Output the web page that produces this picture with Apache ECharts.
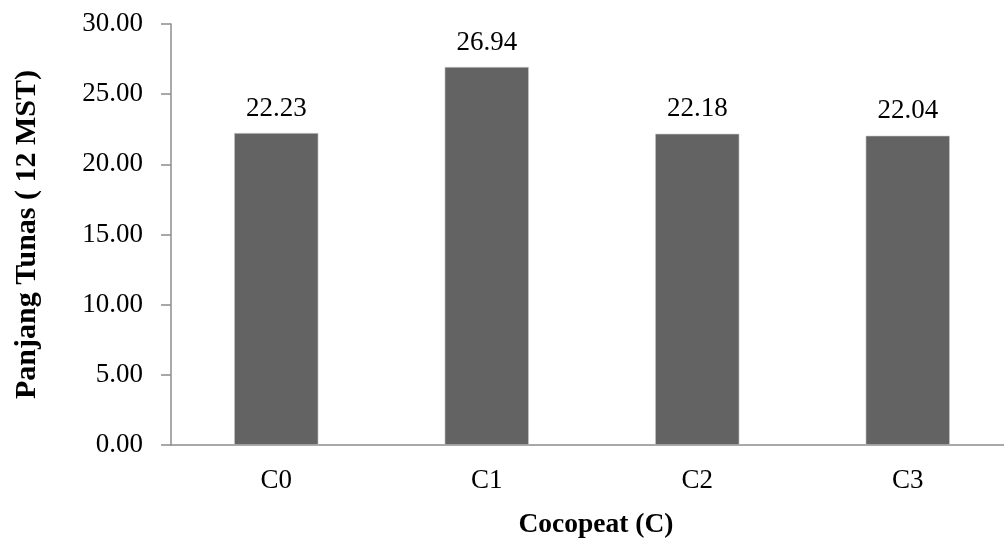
<!DOCTYPE html>
<html>
<head>
<meta charset="utf-8">
<script src="https://cdn.jsdelivr.net/npm/echarts@6/dist/echarts.min.js"></script>
<style>
  html, body { margin: 0; padding: 0; background: #fff; overflow: hidden; }
  #chart { width: 1013px; height: 540px; }
</style>
</head>
<body>
<div id="chart"></div>
<script>
// Shoot length at 12 weeks after planting, per cocopeat treatment
const categories = ['C0', 'C1', 'C2', 'C3'];
const shootLength = [22.23, 26.94, 22.18, 22.04];
const yTicks = { min: 0, max: 30, interval: 5 };

const serif = '"Liberation Serif", "Times New Roman", serif';

const chart = echarts.init(document.getElementById('chart'));
chart.setOption({
  animation: false,
  grid: { left: 171, right: 0, top: 24, bottom: 95, outerBoundsMode: 'none', containLabel: false },
  xAxis: {
    type: 'category',
    data: categories,
    name: 'Cocopeat (C)',
    nameLocation: 'middle',
    nameGap: 66,
    nameTextStyle: { fontFamily: serif, fontSize: 27.5, fontWeight: 'bold', color: '#000', padding: [0, 0, 0, 8] },
    axisLine: { lineStyle: { color: '#8c8c8c', width: 1.5 } },
    axisTick: { show: false },
    axisLabel: { fontFamily: serif, fontSize: 27, color: '#000', margin: 22 }
  },
  yAxis: {
    type: 'value',
    min: yTicks.min,
    max: yTicks.max,
    interval: yTicks.interval,
    name: 'Panjang Tunas ( 12 MST)',
    nameLocation: 'middle',
    nameRotate: 90,
    nameGap: 129,
    nameTextStyle: { fontFamily: serif, fontSize: 30, fontWeight: 'bold', color: '#000' },
    splitLine: { show: false },
    axisLine: { show: true, lineStyle: { color: '#8c8c8c', width: 1.5 } },
    axisTick: { show: true, length: 10, lineStyle: { color: '#8c8c8c', width: 1.5 } },
    axisLabel: {
      fontFamily: serif, fontSize: 27, color: '#000', margin: 28,
      formatter: v => v.toFixed(2)
    }
  },
  series: [{
    type: 'bar',
    data: shootLength,
    barCategoryGap: '60%',
    itemStyle: { color: '#636363', borderColor: '#cfcfcf', borderWidth: 0.6 },
    label: {
      show: true,
      position: 'top',
      distance: 11,
      fontFamily: serif,
      fontSize: 27,
      color: '#000',
      formatter: p => p.value.toFixed(2)
    }
  }]
});
</script>
</body>
</html>
